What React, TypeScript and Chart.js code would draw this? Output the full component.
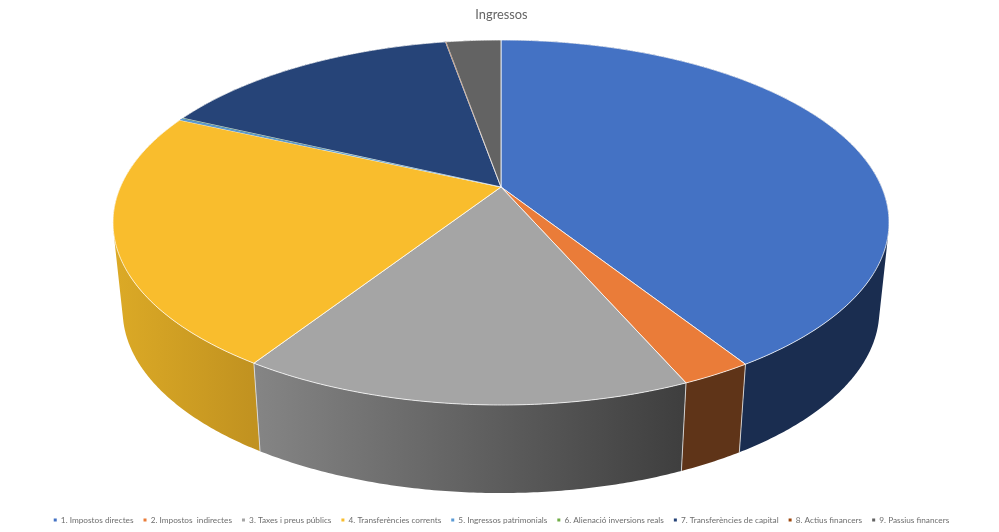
import React, { useEffect, useRef } from "react";
import { Chart, registerables } from "chart.js";

Chart.register(...registerables);

const title = "Ingressos";
const categories = [
  "1. Impostos directes",
  "2. Impostos  indirectes",
  "3. Taxes i preus públics",
  "4. Transferències corrents",
  "5. Ingressos patrimonials",
  "6. Alienació inversions reals",
  "7. Transferències de capital",
  "8. Actius financers",
  "9. Passius financers",
];
const values = [40.98, 2.48, 15.68, 22.61, 0.2, 0.02, 15.25, 0.02, 2.76];
const topColors = ["#4472C4", "#EA7C39", "#A5A5A5", "#F9BD2D", "#5B9BD5", "#70AD47", "#264478", "#9E480E", "#636363"];
// wall shading per slice: left and right colour
const wallLeft = ["#1A2D50", "#5F3418", "#858585", "#DCAA26", "#36597F", "#43682B", "#16294A", "#5F2B08", "#3B3B3B"];
const wallRight = ["#1A2D50", "#5F3418", "#3E3E3E", "#C19220", "#36597F", "#43682B", "#16294A", "#5F2B08", "#3B3B3B"];

// Perspective disc geometry, as fractions of the canvas
const GEO = { cx: 0.5015, apex: 0.3515, k: 0.381, a: 0.2617, c: -0.1945, depth: 0.1655, shrink: 0.975 };

const pie3d = {
  id: "pie3d",
  beforeDatasetDraw(chart: any) {
    const ctx: CanvasRenderingContext2D = chart.ctx;
    const W = chart.width;
    const H = chart.height;
    const cx = GEO.cx * W;
    const apex = GEO.apex * H;
    const k = GEO.k * W;
    const a = GEO.a * H;
    const depth = GEO.depth * H;
    const top = (t: number): [number, number] => {
      const u = Math.cos(t);
      const v = Math.sin(t);
      const d = 1 + GEO.c * v;
      return [cx + (k * u) / d, (a * v + apex) / d];
    };
    const bottom = (t: number): [number, number] => {
      const [x, y] = top(t);
      return [cx + (x - cx) * GEO.shrink, y + depth];
    };
    const arcs: any[] = chart.getDatasetMeta(0).data;
    const STEP = Math.PI / 360;
    const samples = (s: number, e: number) => {
      const n = Math.max(1, Math.ceil((e - s) / STEP));
      return Array.from({ length: n + 1 }, (_, i) => s + ((e - s) * i) / n);
    };

    // walls, back-most first; each wall is a union of consistently wound quads
    const order = arcs.map((_, i) => i).sort((p, q) => {
      const mid = (i: number) => Math.sin((arcs[i].startAngle + arcs[i].endAngle) / 2);
      return mid(p) - mid(q);
    });
    order.forEach((i) => {
      const arc = arcs[i];
      const ts = samples(arc.startAngle, arc.endAngle);
      const xs = ts.map((t) => top(t)[0]);
      const gx0 = Math.min(...xs);
      const gx1 = Math.max(...xs);
      const g = ctx.createLinearGradient(gx0, 0, Math.max(gx1, gx0 + 1), 0);
      g.addColorStop(0, wallLeft[i]);
      g.addColorStop(1, wallRight[i]);
      ctx.fillStyle = g;
      ctx.beginPath();
      for (let j = 0; j < ts.length - 1; j++) {
        const q = [top(ts[j]), top(ts[j + 1]), bottom(ts[j + 1]), bottom(ts[j])];
        let area = 0;
        q.forEach(([x, y], m) => {
          const [nx, ny] = q[(m + 1) % 4];
          area += x * ny - nx * y;
        });
        if (area < 0) q.reverse();
        q.forEach(([x, y], m) => (m ? ctx.lineTo(x, y) : ctx.moveTo(x, y)));
        ctx.closePath();
      }
      ctx.fill("nonzero");
    });
    // edges between walls on the front side
    ctx.strokeStyle = "rgba(225,225,225,0.85)";
    ctx.lineWidth = 1;
    arcs.forEach((arc) => {
      const t: number = arc.startAngle;
      if (Math.sin(t) > 0.3) {
        const [x0, y0] = top(t);
        const [x1, y1] = bottom(t);
        ctx.beginPath();
        ctx.moveTo(x0, y0);
        ctx.lineTo(x1, y1);
        ctx.stroke();
      }
    });

    // top faces: full slices first, hairline slices last and without an outline
    const isThin = (arc: any) => arc.endAngle - arc.startAngle < 0.05;
    const face = (arc: any, i: number) => {
      ctx.beginPath();
      ctx.moveTo(cx, apex);
      samples(arc.startAngle, arc.endAngle).forEach((t) => {
        const [x, y] = top(t);
        ctx.lineTo(x, y);
      });
      ctx.closePath();
      ctx.fillStyle = topColors[i];
      ctx.fill();
    };
    arcs.forEach((arc, i) => {
      if (isThin(arc)) return;
      face(arc, i);
      ctx.strokeStyle = "rgba(255,255,255,0.85)";
      ctx.lineWidth = 0.9;
      ctx.lineJoin = "round";
      ctx.stroke();
    });
    arcs.forEach((arc, i) => {
      if (isThin(arc)) face(arc, i);
    });
    return false;
  },
};

export default function App() {
  const ref = useRef<HTMLCanvasElement>(null);
  useEffect(() => {
    const chart = new Chart(ref.current!, {
      type: "pie",
      data: {
        labels: categories,
        datasets: [{ data: values, backgroundColor: topColors, borderWidth: 0 }],
      },
      plugins: [pie3d as any],
      options: {
        animation: false,
        responsive: false,
        devicePixelRatio: 1,
        layout: { padding: { bottom: -2, left: 4 } },
        plugins: {
          tooltip: { enabled: false },
          title: {
            display: true,
            text: title,
            color: "#646464",
            font: { family: "Lato", size: 12.8, weight: "normal" },
            padding: { top: 7, bottom: 4 },
          },
          legend: {
            position: "bottom",
            labels: {
              usePointStyle: true,
              pointStyle: "rect",
              boxWidth: 3,
              boxHeight: 3,
              padding: 10,
              color: "#6E6E6E",
              font: { family: "Lato", size: 8.25 },
            },
          },
        },
      } as any,
    });
    return () => chart.destroy();
  }, []);
  return (
    <div style={{ position: "absolute", left: 0, top: 0, width: 999, height: 532, background: "#fff" }}>
      <canvas ref={ref} width={999} height={532} style={{ display: "block", width: 999, height: 532, filter: "blur(0.4px)" }} />
    </div>
  );
}
